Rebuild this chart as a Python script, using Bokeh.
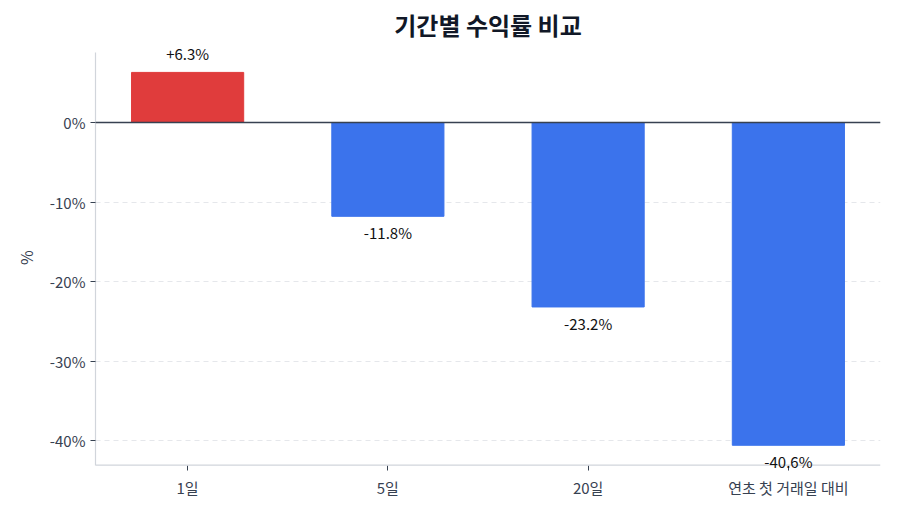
from bokeh.plotting import figure
from bokeh.models import ColumnDataSource, Range1d, FixedTicker, PrintfTickFormatter, Span, Label
from bokeh.embed import file_html
from bokeh.resources import INLINE

categories = ["1일", "5일", "20일", "연초 첫 거래일 대비"]
returns = [6.3, -11.8, -23.2, -40.6]
y_ticks = [0, -10, -20, -30, -40]
axis_lo, axis_hi = -43.1, 8.8     # extent of the drawn axes
view_lo, view_hi = -43.77, 9.81   # visible data window (room for value labels)

RED = "#e03c3c"
BLUE = "#3b73ec"
FONT = "Noto Sans CJK KR"

xs = list(range(len(categories)))
colors = [RED if v >= 0 else BLUE for v in returns]
labels = [("+" if v >= 0 else "") + f"{v:.1f}%" for v in returns]

src = ColumnDataSource(dict(x=xs, top=returns, color=colors, label=labels))

p = figure(width=892, height=506, output_backend="svg", toolbar_location=None,
           x_range=Range1d(-0.46, len(categories) - 0.54),
           y_range=Range1d(view_lo, view_hi),
           min_border_left=95, min_border_right=12, min_border_bottom=36, min_border_top=44)

p.title.text = "기간별 수익률 비교"
p.title.align = "center"
p.title.text_font = FONT
p.title.text_font_size = "24px"
p.title.text_font_style = "bold"
p.title.text_color = "#111827"
p.title.standoff = 6

p.vbar(x="x", top="top", bottom=0, width=0.56, color="color", source=src)

# x axis baseline at the bottom of the value axis
p.add_layout(Span(location=axis_lo, dimension="width", line_color="#d1d5db", line_width=1.2))
# zero line
p.add_layout(Span(location=0, dimension="width", line_color="#374151", line_width=1.6))

for x, v, lab in zip(xs, returns, labels):
    p.add_layout(Label(x=x, y=v, text=lab, text_align="center",
                       text_baseline="bottom" if v >= 0 else "top",
                       y_offset=8 if v >= 0 else -6,
                       text_font=FONT, text_font_size="15px",
                       text_color="#111111", level="overlay"))

p.xaxis.ticker = FixedTicker(ticks=xs)
p.xaxis.major_label_overrides = {i: c for i, c in enumerate(categories)}
p.yaxis.ticker = FixedTicker(ticks=y_ticks)
p.yaxis.formatter = PrintfTickFormatter(format="%d%%")
p.yaxis.bounds = (axis_lo, axis_hi)
p.yaxis.axis_label = "%"
p.yaxis.axis_label_standoff = 9

for ax in (p.xaxis, p.yaxis):
    ax.axis_line_color = "#d1d5db"
    ax.axis_line_width = 1.2
    ax.major_tick_line_color = "#374151"
    ax.major_tick_in = 0
    ax.major_tick_out = 5
    ax.minor_tick_line_color = None
    ax.major_label_text_font = FONT
    ax.major_label_text_font_size = "15px"
    ax.major_label_text_color = "#374151"
    ax.axis_label_text_font = FONT
    ax.axis_label_text_font_size = "16px"
    ax.axis_label_text_font_style = "normal"
    ax.axis_label_text_color = "#374151"

p.xaxis.axis_line_color = None
p.xaxis.major_tick_in = 5
p.xaxis.major_tick_out = 0
p.xaxis.major_label_standoff = 6

p.xgrid.grid_line_color = None
p.ygrid.grid_line_color = "#e5e7eb"
p.ygrid.grid_line_dash = "5 4"
p.ygrid.grid_line_width = 1
p.outline_line_color = None

open("out.html", "w").write(file_html(p, INLINE))
